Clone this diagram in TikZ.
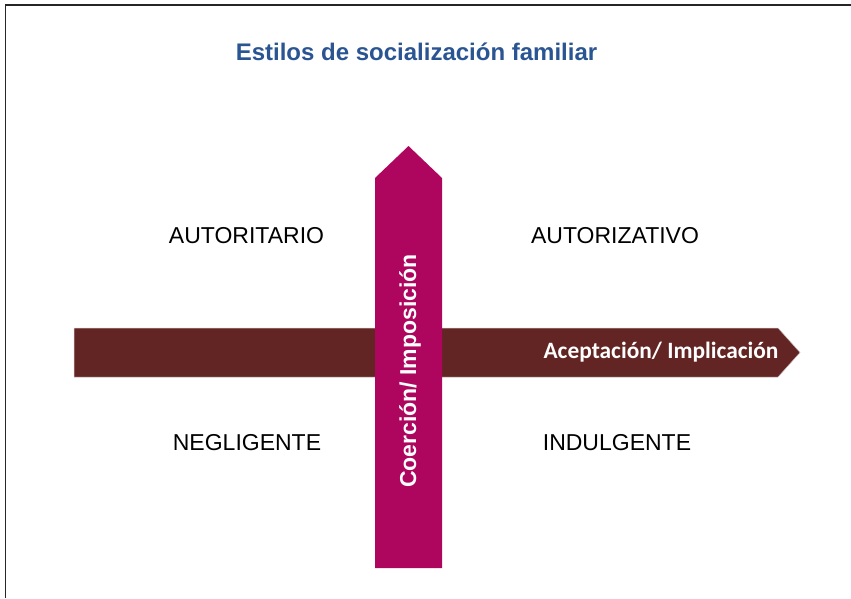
\documentclass[tikz,border=0pt]{standalone}
\usepackage{fontspec}
\setmainfont{Liberation Sans}
\newfontfamily\calibri{Carlito}
\definecolor{maroon}{HTML}{632523}
\definecolor{magentabar}{HTML}{AE065F}
\definecolor{titleblue}{HTML}{2A5592}
\begin{document}
\begin{tikzpicture}[x=1pt,y=-1pt,thick,
    quad label/.style={font=\fontsize{23}{27}\selectfont,text=black,inner sep=0pt},
    axis label/.style={font=\bfseries\fontsize{23}{27}\selectfont,text=white,inner sep=0pt}]
                \useasboundingbox (0,0) rectangle (851,598);
                \draw[line width=1.8pt,black!85] (5.5,598) -- (5.5,5) -- (851,5);

                \node[font=\bfseries\fontsize{24}{28}\selectfont,text=titleblue,inner sep=0pt] at (416.5,52) (title) {Estilos de socialización familiar};

                \coordinate (h tip) at (800,352.5);
                \fill[maroon,draw=maroon!30,line width=0.5pt] (74,328) -- (778,328) -- (h tip) -- (778,377) -- (74,377) -- cycle;

                \coordinate (v tip) at (408.5,146);
                \fill[magentabar] (375,568) -- (375,178) -- (v tip) -- (442,178) -- (442,568) -- cycle;

                \node[axis label,font=\calibri\bfseries\fontsize{23.4}{27}\selectfont] at (661,352.5) (aceptacion) {Aceptación/ Implicación};
                \node[axis label,rotate=90] at (410,371) (coercion) {Coerción/ Imposición};

                \node[quad label] at (246.5,236) (autoritario) {AUTORITARIO};
                \node[quad label] at (615,236) (autorizativo) {AUTORIZATIVO};
                \node[quad label] at (247,443) (negligente) {NEGLIGENTE};
                \node[quad label] at (617,443) (indulgente) {INDULGENTE};
            \end{tikzpicture}
\end{document}
